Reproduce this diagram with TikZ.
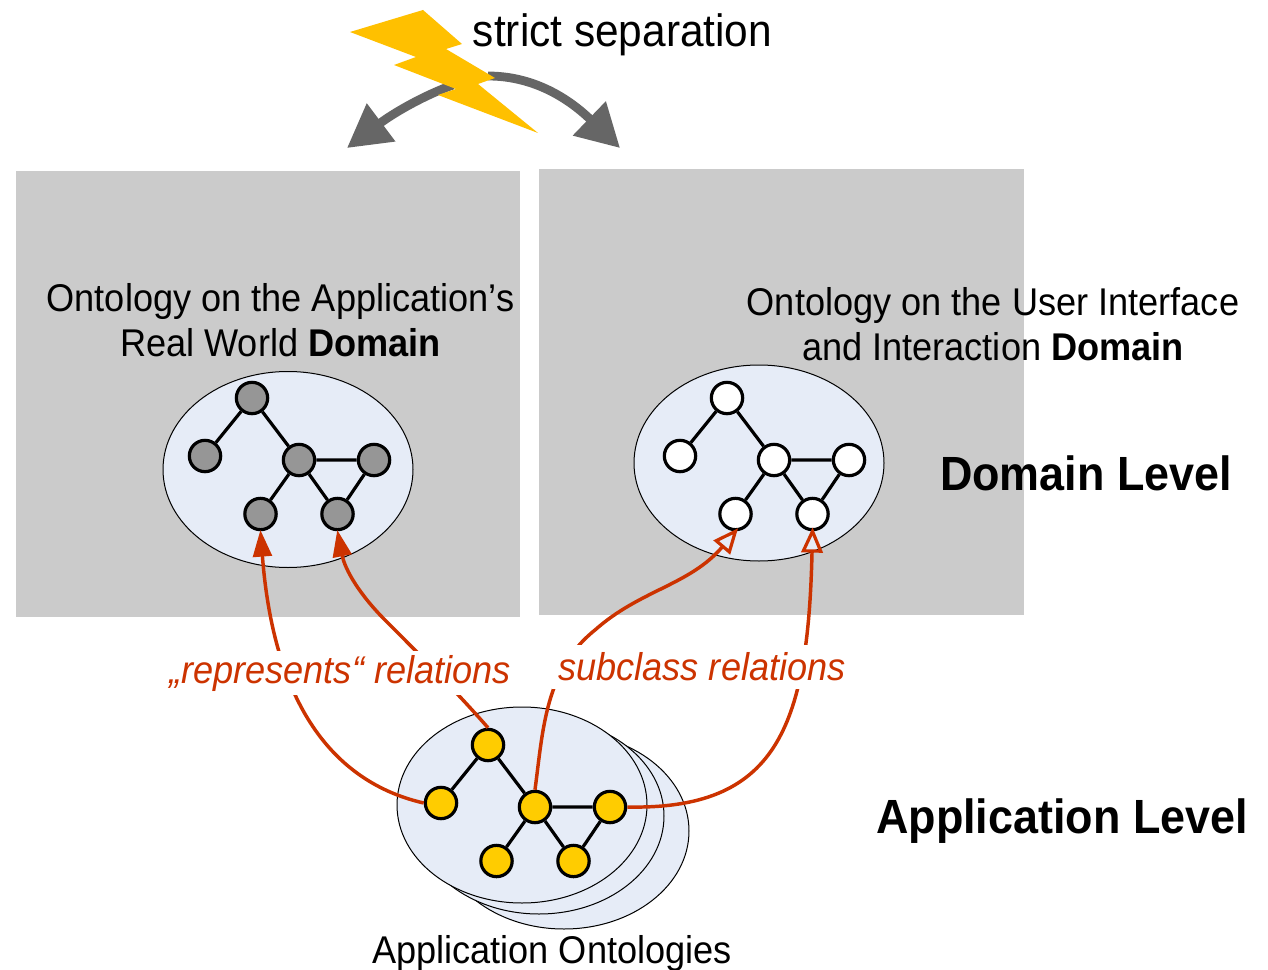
\documentclass[tikz,border=0pt]{standalone}
\usepackage{fontspec}
\setmainfont[FakeStretch=0.935]{Liberation Sans}
\usetikzlibrary{arrows.meta,shapes.geometric}
\definecolor{panel}{HTML}{CBCBCB}
\definecolor{pale}{HTML}{E6ECF7}
\definecolor{rel}{HTML}{CC3300}
\definecolor{bolt}{HTML}{FFC000}
\definecolor{sep}{HTML}{666666}
\definecolor{appnode}{HTML}{FFCC00}
\definecolor{grnode}{HTML}{969696}
\tikzset{
  x=0.75pt,y=-0.75pt,
  panelbox/.style={draw=none,fill=panel,inner sep=0,anchor=north west},
  cloud/.style={ellipse,draw=black,fill=pale,line width=0.75pt,inner sep=0,minimum width=187.5pt,minimum height=147pt},
  cnode/.style={circle,draw=black,line width=2.4pt,inner sep=0,minimum size=23.5pt},
  cedge/.style={line width=2.4pt,black},
  relfull/.style={draw=rel,line width=2.6pt,-{Triangle[length=20pt,width=14pt,fill=rel]},shorten >=-1pt},
  relopen/.style={draw=rel,line width=2.6pt,-{Triangle[open,length=19pt,width=16pt,line width=2.4pt]},shorten >=-3pt},
  sepline/.style={draw=sep,line width=6.6pt,-{Triangle[length=32pt,width=34pt,fill=sep]}},
  lab/.style={inner sep=0,font=\fontsize{29}{33.75}\selectfont,align=center},
  lev/.style={inner sep=0,font=\fontsize{36}{40}\selectfont\bfseries},
  rellab/.style={inner sep=0,fill=white,text=rel,minimum height=33pt,font=\fontsize{29}{35}\selectfont\itshape}
}
\newcommand{\ograph}[4]{%
  \begin{scope}[shift={(#2,#3)},name prefix=#1-]
    \node[cnode,fill=#4] (top) at (252,398) {};
    \node[cnode,fill=#4] (lft) at (205,456) {};
    \node[cnode,fill=#4] (mid) at (299,460) {};
    \node[cnode,fill=#4] (rgt) at (374,460) {};
    \node[cnode,fill=#4] (bl) at (260.5,514) {};
    \node[cnode,fill=#4] (br) at (337.5,514) {};
    \draw[cedge] (top)--(lft) (top)--(mid) (mid)--(rgt) (mid)--(bl) (mid)--(br) (rgt)--(br);
  \end{scope}}
\begin{document}
\begin{tikzpicture}
\useasboundingbox (0,0) rectangle (1268,970);
\fill[white] (0,0) rectangle (1268,970);
\node[panelbox,minimum width=378pt,minimum height=334.5pt] (pl) at (16,171) {};
\node[panelbox,minimum width=363.75pt,minimum height=334.5pt] (pr) at (539,169) {};
\node[cloud] (cl) at (288,469.5) {};
\node[cloud] (cr) at (759,463) {};
\node[cloud] (c3) at (564,831) {};
\node[cloud] (c2) at (539,816) {};
\node[cloud] (c1) at (522,805) {};

\coordinate (sa) at (453,85);
\coordinate (sb) at (347,148);
\coordinate (sc) at (488,76);
\coordinate (sd) at (620,148);
\draw[sepline] (sa) .. controls (425,95) and (395,112) .. (sb);
\draw[sepline] (sc) .. controls (530,76) and (565,95) .. (sd);
\fill[bolt] (423,10)--(462,44)--(446,49)--(495,78)--(478,84)--(538,133)--(438,95)--(456,89)--(394,65)--(416,57)--(350,32)--cycle;
\node[inner sep=0,font=\fontsize{34}{40}\selectfont] (ss) at (622.5,35) {strict separation};

\node[lab] (tl) at (280.5,320) {Ontology on the Application’s\\Real World \textbf{Domain}};
\node[lab] (tr) at (993,324.5) {Ontology on the User Interface\\and Interaction \textbf{Domain}};
\node[lev] (dl) at (1086,473) {Domain Level};
\node[lev] (al) at (1062,821) {Application Level};
\node[lab] (ao) at (552,953) {Application Ontologies};

\ograph{L}{0}{0}{grnode}
\ograph{R}{475}{0}{white}
\ograph{A}{236}{347}{appnode}

\draw[relfull] (A-lft.west) .. controls (345,785) and (275,720) .. (L-bl.south);
\draw[relfull] (A-top.north) .. controls (455,690) and (415,650) .. (385,620) .. controls (360,595) and (345,570) .. (L-br.south);
\draw[relopen] (A-mid.north) .. controls (543,730) and (545,670) .. (595,630) .. controls (640,590) and (690,585) .. (R-bl.south);
\draw[relopen] (A-rgt.east) .. controls (775,810) and (808,730) .. (R-br.south);
\node[rellab] (rl) at (340,673) {„represents“ relations};
\node[rellab,inner xsep=5pt] (sl) at (702,667) {subclass relations};
\end{tikzpicture}
\end{document}
